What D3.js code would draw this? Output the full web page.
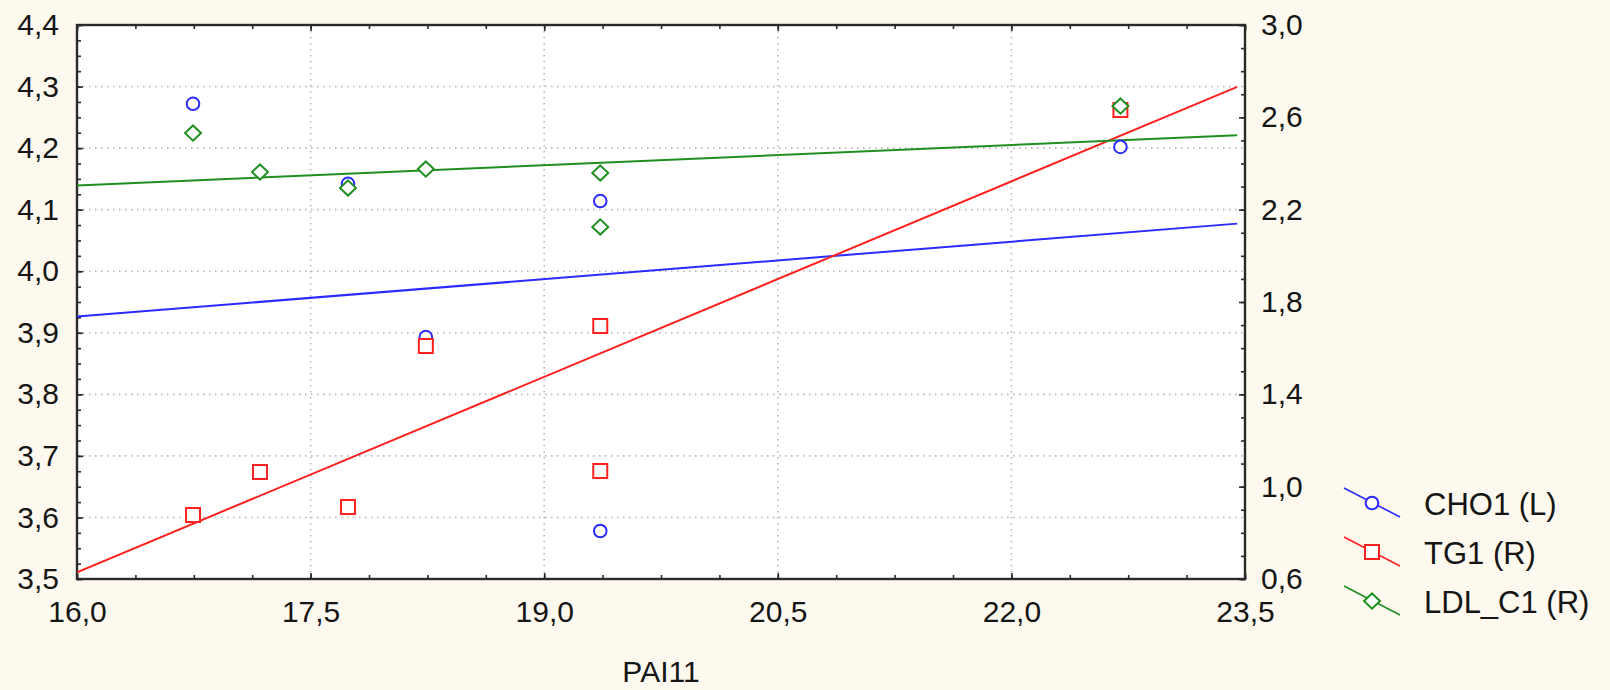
<!DOCTYPE html>
<html>
<head>
<meta charset="utf-8">
<script src="https://cdn.jsdelivr.net/npm/d3@7"></script>
<style>
  html, body { margin: 0; padding: 0; background: #fef9ee; }
  svg { display: block; }
  text { font-family: "Liberation Sans", Arial, sans-serif; fill: #151515; }
</style>
</head>
<body>
<svg id="chart" width="1610" height="690"></svg>
<script>
// ---- Data ----
const pai11 = [16.745, 17.175, 17.74, 18.24, 19.36, 19.36, 22.70];
const cho1  = [4.272, 3.675, 4.142, 3.893, 4.114, 3.578, 4.202];
const tg1   = [0.877, 1.063, 0.912, 1.609, 1.696, 1.068, 2.632];
const ldlC1 = [2.532, 2.363, 2.294, 2.376, 2.359, 2.125, 2.649];

const seriesNames  = ["CHO1 (L)", "TG1 (R)", "LDL_C1 (R)"];
const seriesColors = ["#2b2bff", "#ff2020", "#1f8f1f"];
const seriesAxis   = ["L", "R", "R"];
const seriesSymbol = ["circle", "square", "diamond"];

const xDomain = [16.0, 23.5];
const yLeftDomain = [3.5, 4.4];
const yRightDomain = [0.6, 3.0];
const fitRange = [16.0, 23.45];

const xMajor = d3.range(0, 6).map(i => 16 + 1.5 * i);
const xMinor = d3.range(0, 21).map(i => 16 + 0.375 * i);
const yLeftMajor = d3.range(35, 45).map(d => d / 10);
const yLeftMinor = d3.range(140, 177).map(d => d / 40);
const yRightMajor = d3.range(6, 31, 4).map(d => d / 10);
const yRightMinor = d3.range(6, 31).map(d => d / 10);
const xTitle = "PAI11";

// ---- Layout ----
const svg = d3.select("#chart");
const W = 1610, H = 690;
const plot = { left: 77, right: 1245, top: 25, bottom: 579 };

svg.append("rect").attr("width", W).attr("height", H).attr("fill", "#fef9ee");

const x = d3.scaleLinear().domain(xDomain).range([plot.left, plot.right]);
const yL = d3.scaleLinear().domain(yLeftDomain).range([plot.bottom, plot.top]);
const yR = d3.scaleLinear().domain(yRightDomain).range([plot.bottom, plot.top]);

const locale = d3.formatLocale({ decimal: ",", thousands: ".", grouping: [3], currency: ["", ""] });
const fmt = locale.format(".1f");

// plot background
svg.append("rect")
  .attr("x", plot.left).attr("y", plot.top)
  .attr("width", plot.right - plot.left).attr("height", plot.bottom - plot.top)
  .attr("fill", "#ffffff");

// grid
const grid = svg.append("g").attr("stroke", "#b9b9b9").attr("stroke-width", 1.6)
  .attr("stroke-dasharray", "1.6,4.4");
grid.selectAll("line.h").data(yLeftMajor.slice(1, -1)).join("line")
  .attr("x1", plot.left).attr("x2", plot.right)
  .attr("y1", d => yL(d)).attr("y2", d => yL(d));
grid.selectAll("line.v").data(xMajor.slice(1, -1)).join("line")
  .attr("y1", plot.top).attr("y2", plot.bottom)
  .attr("x1", d => x(d)).attr("x2", d => x(d));

// axes helper
function styleAxis(g) {
  g.select(".domain").remove();
  g.selectAll(".tick line").attr("stroke", "#2a2a2a").attr("stroke-width", 1.6);
  g.selectAll("text").attr("font-size", 30).attr("fill", "#151515")
    .attr("font-family", "'Liberation Sans', Arial, sans-serif");
}

// minor ticks
svg.append("g").attr("transform", `translate(${plot.left},0)`)
  .call(d3.axisLeft(yL).tickValues(yLeftMinor).tickSize(-4).tickFormat(""))
  .call(styleAxis);
svg.append("g").attr("transform", `translate(${plot.right},0)`)
  .call(d3.axisRight(yR).tickValues(yRightMinor).tickSize(-4).tickFormat(""))
  .call(styleAxis);
svg.append("g").attr("transform", `translate(0,${plot.bottom})`)
  .call(d3.axisBottom(x).tickValues(xMinor).tickSize(-4).tickFormat(""))
  .call(styleAxis);
svg.append("g").attr("transform", `translate(0,${plot.top})`)
  .call(d3.axisTop(x).tickValues(xMinor).tickSize(-4).tickFormat(""))
  .call(styleAxis);

// major ticks + labels
svg.append("g").attr("transform", `translate(${plot.left},0)`)
  .call(d3.axisLeft(yL).tickValues(yLeftMajor).tickSize(-6).tickPadding(18).tickFormat(fmt))
  .call(styleAxis);
svg.append("g").attr("transform", `translate(${plot.right},0)`)
  .call(d3.axisRight(yR).tickValues(yRightMajor).tickSize(-6).tickPadding(16).tickFormat(fmt))
  .call(styleAxis);
svg.append("g").attr("transform", `translate(0,${plot.bottom})`)
  .call(d3.axisBottom(x).tickValues(xMajor).tickSize(-6).tickPadding(22).tickFormat(fmt))
  .call(styleAxis);
svg.append("g").attr("transform", `translate(0,${plot.top})`)
  .call(d3.axisTop(x).tickValues(xMajor).tickSize(-6).tickFormat(""))
  .call(styleAxis);

// frame
svg.append("rect")
  .attr("x", plot.left).attr("y", plot.top)
  .attr("width", plot.right - plot.left).attr("height", plot.bottom - plot.top)
  .attr("fill", "none").attr("stroke", "#2a2a2a").attr("stroke-width", 2.4);

// x title
svg.append("text")
  .attr("x", (plot.left + plot.right) / 2).attr("y", 682)
  .attr("text-anchor", "middle").attr("font-size", 30)
  .text(xTitle);

// symbols
const diamondType = {
  draw(ctx, size) {
    const a = Math.sqrt(size) / 2;
    ctx.moveTo(0, -a * 0.95); ctx.lineTo(a, 0); ctx.lineTo(0, a * 0.95); ctx.lineTo(-a, 0); ctx.closePath();
  }
};
const symbolTypes = { circle: d3.symbolCircle, square: d3.symbolSquare, diamond: diamondType };
const symbolSizes = { circle: Math.PI * 6.3 * 6.3, square: 14 * 14, diamond: 16 * 16 };
function symbolPath(name) {
  return d3.symbol().type(symbolTypes[name]).size(symbolSizes[name])();
}

// regression
function fit(xs, ys) {
  const mx = d3.mean(xs), my = d3.mean(ys);
  let sxy = 0, sxx = 0;
  xs.forEach((xv, i) => { sxy += (xv - mx) * (ys[i] - my); sxx += (xv - mx) ** 2; });
  const b = sxy / sxx;
  return v => my + b * (v - mx);
}

const seriesValues = [cho1, tg1, ldlC1];
svg.append("clipPath").attr("id", "pc").append("rect")
  .attr("x", plot.left).attr("y", plot.top)
  .attr("width", plot.right - plot.left).attr("height", plot.bottom - plot.top);

const layer = svg.append("g").attr("clip-path", "url(#pc)");

// lines
seriesValues.forEach((vals, si) => {
  const ys = seriesAxis[si] === "L" ? yL : yR;
  const f = fit(pai11, vals);
  layer.append("path")
    .datum(fitRange)
    .attr("d", d3.line().x(d => x(d)).y(d => ys(f(d))))
    .attr("fill", "none").attr("stroke", seriesColors[si]).attr("stroke-width", 2);
});

// points
seriesValues.forEach((vals, si) => {
  const ys = seriesAxis[si] === "L" ? yL : yR;
  layer.append("g").selectAll("path").data(vals).join("path")
    .attr("transform", (d, i) => `translate(${x(pai11[i])},${ys(d)})`)
    .attr("d", symbolPath(seriesSymbol[si]))
    .attr("fill", "#ffffff").attr("stroke", seriesColors[si]).attr("stroke-width", 2);
});

// legend
const legend = svg.append("g");
seriesNames.forEach((name, si) => {
  const cy = 503 + si * 49;
  const g = legend.append("g").attr("transform", `translate(1372,${cy})`);
  g.append("line").attr("x1", -28).attr("y1", -15).attr("x2", 28).attr("y2", 14)
    .attr("stroke", seriesColors[si]).attr("stroke-width", 1.6);
  g.append("path").attr("d", symbolPath(seriesSymbol[si]))
    .attr("fill", "#ffffff").attr("stroke", seriesColors[si]).attr("stroke-width", 2);
  legend.append("text").attr("x", 1424).attr("y", cy + 12)
    .attr("font-size", 31).text(name);
});
</script>
</body>
</html>
